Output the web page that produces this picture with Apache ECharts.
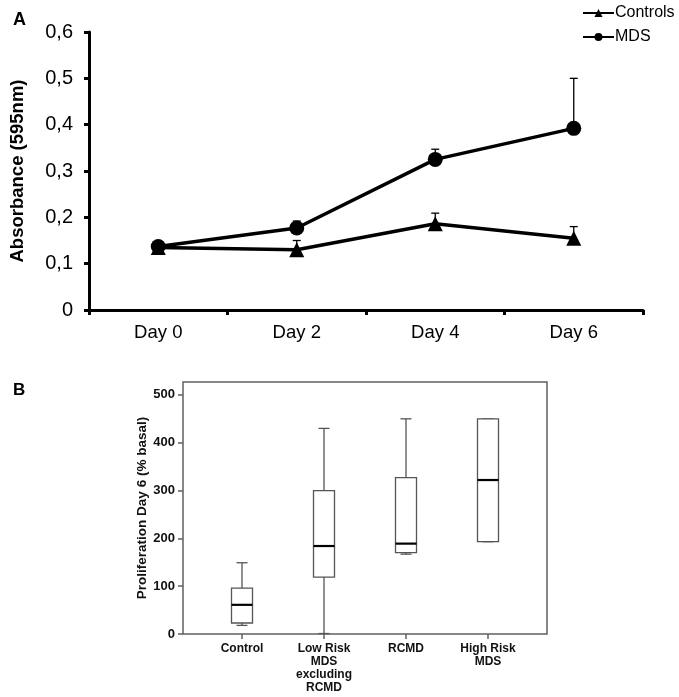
<!DOCTYPE html>
<html><head><meta charset="utf-8">
<script src="https://cdn.jsdelivr.net/npm/echarts@6/dist/echarts.min.js"></script>
<style>html,body{margin:0;padding:0;background:#fff}#c{width:679px;height:697px}</style>
</head><body><div id="c"></div>
<script>
// Panel A data
var daysA = ['Day 0', 'Day 2', 'Day 4', 'Day 6'];
var controlsMean = [0.135, 0.130, 0.186, 0.155];
var controlsErrTop = [0.140, 0.150, 0.209, 0.180];
var mdsMean = [0.137, 0.177, 0.325, 0.392];
var mdsErrTop = [0.140, 0.192, 0.347, 0.500];
var yTicksA = [0, 0.1, 0.2, 0.3, 0.4, 0.5, 0.6];

// Panel B data: [min, q1, median, q3, max]
var groupsB = ['Control', 'Low Risk\nMDS\nexcluding\nRCMD', 'RCMD', 'High Risk\nMDS'];
var controlBox = [18, 23, 61, 96, 149];
var lowRiskBox = [1, 119, 184, 300, 430];
var rcmdBox = [167, 170, 189, 327, 450];
var highRiskBox = [193, 193, 322, 450, 450];
var yTicksB = [0, 100, 200, 300, 400, 500];

var FONT = '"Liberation Sans", Arial, sans-serif';
var chart = echarts.init(document.getElementById('c'), null, {renderer: 'canvas'});

function errData(mean, top) {
  return mean.map(function (m, i) { return [i, m, top[i]]; });
}
function renderErr(params, api) {
  var p = api.coord([api.value(0), api.value(1)]);
  var q = api.coord([api.value(0), api.value(2)]);
  var st = {stroke: '#000', lineWidth: 1.3};
  return {type: 'group', children: [
    {type: 'line', shape: {x1: p[0], y1: p[1], x2: q[0], y2: q[1]}, style: st},
    {type: 'line', shape: {x1: q[0] - 4, y1: q[1], x2: q[0] + 4, y2: q[1]}, style: st}
  ]};
}
var boxes = [controlBox, lowRiskBox, rcmdBox, highRiskBox];
function renderBox(params, api) {
  var i = api.value(0);
  var pMin = api.coord([i, api.value(1)]);
  var pQ1 = api.coord([i, api.value(2)]);
  var pMed = api.coord([i, api.value(3)]);
  var pQ3 = api.coord([i, api.value(4)]);
  var pMax = api.coord([i, api.value(5)]);
  var x = pMin[0], hw = 10.5, cw = 5.5;
  var st = {stroke: '#555', lineWidth: 1.3, fill: null};
  return {type: 'group', children: [
    {type: 'line', shape: {x1: x, y1: pQ3[1], x2: x, y2: pMax[1]}, style: st},
    {type: 'line', shape: {x1: x, y1: pQ1[1], x2: x, y2: pMin[1]}, style: st},
    {type: 'line', shape: {x1: x - cw, y1: pMax[1], x2: x + cw, y2: pMax[1]}, style: st},
    {type: 'line', shape: {x1: x - cw, y1: pMin[1], x2: x + cw, y2: pMin[1]}, style: st},
    {type: 'rect', shape: {x: x - hw, y: pQ3[1], width: 2 * hw, height: pQ1[1] - pQ3[1]}, style: {stroke: '#555', lineWidth: 1.3, fill: '#fff'}},
    {type: 'line', shape: {x1: x - hw, y1: pMed[1], x2: x + hw, y2: pMed[1]}, style: {stroke: '#000', lineWidth: 2.2}}
  ]};
}

var option = {
  animation: false,
  backgroundColor: '#fff',
  textStyle: {fontFamily: FONT},
  title: [
    {text: 'A', left: 8, top: 6, textStyle: {fontSize: 18, fontWeight: 'bold', color: '#000', fontFamily: FONT}},
    {text: 'B', left: 8, top: 377, textStyle: {fontSize: 17, fontWeight: 'bold', color: '#000', fontFamily: FONT}}
  ],
  legend: {
    data: ['Controls', 'MDS'], orient: 'vertical', left: 577, top: 0,
    itemWidth: 31, itemHeight: 10, itemGap: 8,
    textStyle: {fontSize: 16, color: '#000', fontFamily: FONT, padding: [0, 0, 0, -4]}
  },
  grid: [
    {left: 89, right: 36, top: 32, bottom: 387},
    {left: 201, width: 328, top: 382, bottom: 63},
    {left: 183, width: 364, top: 382, bottom: 63, show: true, borderColor: '#606060', borderWidth: 1.5, backgroundColor: 'transparent'}
  ],
  xAxis: [
    {type: 'category', gridIndex: 0, data: daysA, boundaryGap: true,
     axisLine: {lineStyle: {color: '#000', width: 3}},
     axisTick: {show: true, length: 5, lineStyle: {color: '#000', width: 3}},
     axisLabel: {fontSize: 18.5, color: '#000', margin: 13, fontFamily: FONT}},
    {type: 'category', gridIndex: 1, data: groupsB, boundaryGap: true,
     axisLine: {show: false},
     axisTick: {show: true, alignWithLabel: true, length: 5, lineStyle: {color: '#606060', width: 1.5}},
     axisLabel: {fontSize: 12, fontWeight: 'bold', color: '#111', margin: 8, lineHeight: 13, fontFamily: FONT}},
    {type: 'value', gridIndex: 2, show: false}
  ],
  yAxis: [
    {type: 'value', gridIndex: 0, min: 0, max: 0.6, interval: 0.1,
     name: 'Absorbance (595nm)', nameLocation: 'middle', nameGap: 62,
     nameTextStyle: {fontSize: 18.5, fontWeight: 'bold', color: '#000', fontFamily: FONT},
     axisLine: {show: true, lineStyle: {color: '#000', width: 3}},
     axisTick: {show: true, length: 5, lineStyle: {color: '#000', width: 3}},
     splitLine: {show: false},
     axisLabel: {fontSize: 20, color: '#000', margin: 16, fontFamily: FONT,
       formatter: function (v) { return v === 0 ? '0' : v.toFixed(1).replace('.', ','); }}},
    {type: 'value', gridIndex: 1, min: 0, max: 527, interval: 100, offset: 18,
     name: 'Proliferation Day 6 (% basal)', nameLocation: 'middle', nameGap: 27,
     nameTextStyle: {fontSize: 13.5, fontWeight: 'bold', color: '#111', fontFamily: FONT},
     axisLine: {show: false},
     axisTick: {show: true, length: 5, lineStyle: {color: '#606060', width: 1.5},
       customValues: yTicksB},
     splitLine: {show: false},
     axisLabel: {fontSize: 13, fontWeight: 'bold', color: '#111', margin: 8, fontFamily: FONT,
       customValues: yTicksB}},
    {type: 'value', gridIndex: 2, show: false}
  ],
  series: [
    {name: 'Controls', type: 'line', xAxisIndex: 0, yAxisIndex: 0, data: controlsMean,
     symbol: 'triangle', symbolSize: 15, z: 3,
     itemStyle: {color: '#000'}, lineStyle: {color: '#000', width: 3.5}},
    {name: 'MDS', type: 'line', xAxisIndex: 0, yAxisIndex: 0, data: mdsMean,
     symbol: 'circle', symbolSize: 15, z: 3,
     itemStyle: {color: '#000'}, lineStyle: {color: '#000', width: 3.5}},
    {name: 'Controls err', type: 'custom', xAxisIndex: 0, yAxisIndex: 0,
     data: errData(controlsMean, controlsErrTop), renderItem: renderErr, z: 2},
    {name: 'MDS err', type: 'custom', xAxisIndex: 0, yAxisIndex: 0,
     data: errData(mdsMean, mdsErrTop), renderItem: renderErr, z: 2},
    {name: 'Proliferation', type: 'custom', xAxisIndex: 1, yAxisIndex: 1,
     data: boxes.map(function (b, i) { return [i].concat(b); }),
     encode: {x: 0, y: [1, 2, 3, 4, 5]},
     renderItem: renderBox}
  ]
};
chart.setOption(option);
</script></body></html>
